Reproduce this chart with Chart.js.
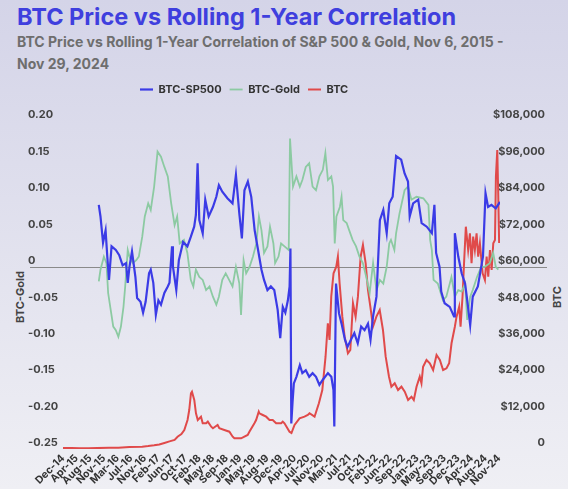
<!DOCTYPE html>
<html>
<head>
<meta charset="utf-8">
<script src="https://cdn.jsdelivr.net/npm/chart.js@4.4.1/dist/chart.umd.min.js"></script>
<style>
  html, body { margin: 0; padding: 0; }
  body {
    width: 568px; height: 489px; overflow: hidden; position: relative;
    background: linear-gradient(to bottom, #d4d4e8, #efeff4);
    font-family: Inter, sans-serif;
  }
  #title { position: absolute; left: 17px; top: 2px; font-size: 23.5px; font-weight: 700; color: #3f3fde; white-space: nowrap; }
  #subtitle { position: absolute; left: 17px; top: 31px; font-size: 14px; font-weight: 700; color: #6e6e6e; line-height: 22px; white-space: nowrap; }
  .axisTitle { position: absolute; font-size: 11px; font-weight: 700; color: #444; white-space: nowrap;
               transform: translate(-50%, -50%) rotate(-90deg); }
  #wrap { position: absolute; left: 0; top: 76px; width: 568px; height: 413px; }
</style>
</head>
<body>
<div id="title">BTC Price vs Rolling 1-Year Correlation</div>
<div id="subtitle">BTC Price vs Rolling 1-Year Correlation of S&amp;P 500 &amp; Gold, Nov 6, 2015 -<br>Nov 29, 2024</div>
<div class="axisTitle" style="left:20px; top:297px;">BTC-Gold</div>
<div class="axisTitle" style="left:557px; top:297px;">BTC</div>
<div id="wrap"><canvas id="chart" width="568" height="413"></canvas></div>
<script>
// x = weeks since the Dec-14 tick, labels every 16 weeks
const xLabels = ['Dec-14', 'Apr-15', 'Aug-15', 'Nov-15', 'Mar-16', 'Jul-16', 'Nov-16', 'Feb-17', 'Jun-17', 'Oct-17',
  'Feb-18', 'May-18', 'Sep-18', 'Jan-19', 'May-19', 'Aug-19', 'Dec-19', 'Apr-20', 'Jul-20', 'Nov-20', 'Mar-21',
  'Jul-21', 'Oct-21', 'Feb-22', 'Jun-22', 'Sep-22', 'Jan-23', 'May-23', 'Sep-23', 'Dec-23', 'Apr-24', 'Aug-24', 'Nov-24'];
const xTickWeeks = [0, 16, 32, 48, 64, 80, 96, 112, 128, 144, 160, 176, 192, 208, 224, 240, 256, 272, 288, 304,
  320, 336, 352, 368, 384, 400, 416, 432, 448, 464, 480, 496, 512];

// BTC vs S&P 500 rolling correlation [week, corr]
const sp500 = [
  [42, 0.085], [44, 0.069], [47, 0.033], [50, 0.050], [52, 0.014], [54, -0.018], [57, 0.028], [62, 0.023], [66, 0.016],
  [70, 0.002], [74, 0.005], [76, -0.022], [78, 0.000], [81, 0.021], [85, -0.014], [87, -0.043], [91, -0.048], [94, -0.063],
  [97, -0.048], [101, -0.009], [103, -0.004], [106, -0.022], [109, -0.066], [112, -0.046], [115, -0.052], [119, -0.036],
  [123, -0.027], [125, -0.022], [128, 0.028], [129, 0.001], [133, -0.032], [136, 0.009], [141, 0.034], [146, 0.028],
  [150, 0.041], [154, 0.055], [156, 0.071], [158, 0.142], [160, 0.064], [164, 0.046], [167, 0.092], [171, 0.069],
  [176, 0.082], [180, 0.096], [183, 0.112], [187, 0.103], [193, 0.094], [199, 0.087], [203, 0.126], [207, 0.073],
  [210, 0.039], [213, 0.105], [217, 0.117], [221, 0.096], [225, 0.050], [229, 0.023], [233, -0.004], [236, -0.018],
  [240, -0.032], [244, -0.027], [248, -0.032], [252, -0.059], [255, -0.098], [258, -0.055], [261, -0.063], [264, -0.046],
  [266, -0.027], [267, 0.025], [268, -0.215], [269.5, -0.185], [271, -0.160], [274, -0.151], [278, -0.135], [281, -0.146],
  [285, -0.142], [289, -0.151], [293, -0.146], [297, -0.151], [301, -0.162], [305, -0.155], [311, -0.146], [315, -0.151],
  [317.5, -0.169], [318.5, -0.219], [320.5, -0.023], [324, -0.064], [327, -0.078], [331, -0.100], [334, -0.110],
  [338, -0.100], [342, -0.091], [346, -0.105], [350, -0.082], [354, -0.087], [358, -0.078], [361, -0.100], [364, -0.068],
  [368, -0.041], [372, 0.064], [376, 0.078], [380, 0.046], [383, 0.087], [387, 0.096], [391, 0.152], [397, 0.147],
  [401, 0.128], [405, 0.117], [407, 0.069], [411, 0.087], [417, 0.092], [421, 0.060], [427, 0.055], [433, 0.046],
  [436, 0.085], [438, 0.019], [442, 0.000], [444, -0.034], [448, -0.050], [454, -0.055], [459, -0.068], [460, 0.046],
  [464, 0.014], [468, -0.009], [472, -0.023], [474, -0.041], [478, -0.080], [481, -0.041], [487, -0.027], [493, 0.014],
  [496, 0.101], [499, 0.082], [503, 0.085], [508, 0.080], [513, 0.089]
];

// BTC vs Gold rolling correlation [week, corr]
const gold = [
  [42, -0.020], [44, -0.004], [48, 0.014], [51, 0.005], [53, -0.036], [56, -0.059], [59, -0.082], [62, -0.087],
  [65, -0.096], [68, -0.082], [71, -0.055], [73, -0.027], [76, 0.023], [78, 0.014], [82, 0.005], [86, 0.009], [89, 0.014],
  [93, 0.041], [96, 0.069], [100, 0.087], [103, 0.078], [107, 0.110], [111, 0.158], [115, 0.151], [119, 0.137],
  [123, 0.124], [127, 0.087], [131, 0.057], [134, 0.069], [137, 0.032], [142, 0.037], [146, 0.019], [150, -0.018],
  [153, -0.027], [156, -0.004], [160, -0.014], [164, -0.018], [168, -0.032], [172, -0.027], [176, -0.041], [180, -0.052],
  [183, -0.041], [187, -0.018], [191, -0.009], [195, -0.018], [199, -0.027], [203, 0.000], [207, -0.023], [209, -0.066],
  [212, 0.009], [215, -0.009], [219, 0.000], [223, 0.014], [227, 0.032], [230, 0.069], [233, 0.050], [236, 0.019],
  [240, 0.028], [243, 0.055], [247, 0.032], [249, 0.005], [253, 0.014], [256, 0.032], [260, 0.028], [265, 0.023],
  [266.5, 0.176], [270, 0.110], [274, 0.124], [278, 0.110], [281, 0.119], [285, 0.137], [289, 0.142], [293, 0.110],
  [297, 0.105], [301, 0.124], [305, 0.133], [308, 0.156], [311, 0.119], [315, 0.124], [317, 0.110], [319, 0.032],
  [321, 0.069], [325, 0.082], [327, 0.096], [329, 0.064], [333, 0.060], [336, 0.050], [340, 0.037], [344, 0.028],
  [348, 0.014], [352, 0.005], [356, -0.014], [360, -0.036], [364, 0.005], [368, -0.032], [372, -0.018], [376, -0.023],
  [380, 0.000], [383, 0.032], [385, 0.037], [389, 0.023], [391, 0.046], [395, 0.073], [401, 0.105], [405, 0.110],
  [409, 0.092], [415, 0.096], [423, 0.094], [429, 0.085], [431, 0.037], [433, 0.023], [435, -0.018], [440, -0.023],
  [446, -0.046], [450, -0.041], [456, -0.014], [460, -0.041], [464, -0.032], [468, -0.034], [472, -0.023],
  [474.5, -0.073], [478, -0.041], [481, -0.032], [486, -0.014], [491, 0.000], [495, 0.000], [501, 0.005], [505, 0.019],
  [508, 0.000], [511, -0.004]
];

// BTC price in USD [week, price]
const btc = [
  [0, 330], [10, 300], [20, 260], [30, 240], [40, 300], [54, 420], [65, 450], [78, 620], [93, 760], [100, 950],
  [107, 1200], [113, 1500], [119, 2000], [125, 2500], [131, 3000], [134.5, 4050], [139, 4900], [142.4, 6250],
  [146.2, 9550], [148.2, 12840], [150.2, 18340], [151.4, 18870], [154.1, 16140], [156.1, 11760], [158.2, 9550],
  [162, 10640], [164, 8460], [168, 8460], [170, 9000], [174, 7340], [176, 6820], [181.5, 7900], [183.5, 6820],
  [189.4, 6260], [195.3, 5700], [199.2, 4050], [201.2, 3520], [209.1, 3520], [216.8, 4610], [218.8, 5700],
  [224.7, 8460], [226.7, 9550], [229.8, 12280], [230.6, 11760], [234.5, 11200], [238.5, 10640], [242.4, 9550],
  [246.2, 9550], [250.2, 8460], [256.1, 8460], [258, 9000], [260, 8460], [265.9, 5700], [268.2, 5270], [271.8, 7900],
  [277.7, 10110], [283.5, 10640], [287.4, 11200], [289.4, 11760], [295.3, 10640], [300.4, 15050], [304.4, 19430],
  [308.2, 30390], [310.9, 41390], [312.9, 35890], [314.9, 50150], [317.6, 57860], [320.8, 60030], [322.7, 63320],
  [324.7, 54570], [327.9, 43570], [330.6, 36980], [334.5, 31510], [337.3, 32600], [340.4, 47980], [343.5, 43570],
  [346.2, 50150], [349.4, 63320], [352.1, 67180], [355.3, 61150], [358, 52360], [360.8, 46860], [363.9, 40270],
  [367.9, 43570], [371.8, 45770], [375.6, 39190], [378.8, 30390], [382.7, 23810], [385.5, 20520], [389.4, 21640],
  [393.3, 19430], [397.3, 20520], [401.2, 18870], [405.1, 16140], [409.1, 17220], [411.8, 16140], [415, 20520],
  [418.8, 23810], [420.8, 21640], [422.7, 27100], [426.7, 29310], [430.6, 28220], [434.5, 26010], [438.5, 30950],
  [442.4, 29310], [446.2, 26010], [450.2, 26570], [453.3, 28220], [456.1, 34810], [460, 40270], [462, 43570],
  [465.1, 46860], [466.7, 40270], [469, 50150], [470.6, 60030], [472.9, 73200], [475.6, 65530], [477.7, 71030],
  [479.6, 61150], [481.5, 69910], [483.5, 65530], [485.5, 71030], [487.4, 63320], [489.4, 67740], [492.6, 57860],
  [495.3, 55650], [497.3, 63320], [499.2, 56740], [501.2, 65530], [503.2, 58940], [505.1, 67740], [507.1, 68820],
  [508.2, 89670], [509.8, 98460], [510.9, 84200], [512, 67840]
];

const toXY = arr => arr.map(p => ({ x: p[0], y: p[1] }));
const tickFont = { family: 'Inter', size: 11, weight: 'bold' };

// grey line at correlation 0, runs under the tick labels too
const zeroLine = {
  id: 'zeroLine',
  beforeDatasetsDraw(chart) {
    const y = Math.round(chart.scales.y.getPixelForValue(0)) + 0.5;
    const c = chart.ctx;
    c.save();
    c.strokeStyle = '#8a8a8a';
    c.lineWidth = 1;
    c.beginPath();
    c.moveTo(30, y);
    c.lineTo(547, y);
    c.stroke();
    c.restore();
  }
};

// legend sits a bit left of centre with extra room below it,
// and the y tick labels may spill outside their narrow axis boxes
const layoutTweaks = {
  id: 'layoutTweaks',
  beforeInit(chart) {
    const fit = chart.legend.fit;
    chart.legend.fit = function () { fit.call(this); this.height = 45; };
  },
  afterLayout(chart) {
    chart.legend.left = 132;
    chart.scales.y._computeLabelArea = () => undefined;
    chart.scales.y2._computeLabelArea = () => undefined;
  }
};

new Chart(document.getElementById('chart'), {
  type: 'line',
  data: {
    datasets: [
      { label: 'BTC-SP500', data: toXY(sp500), yAxisID: 'y', borderColor: '#3b3be6', borderWidth: 2.2, pointRadius: 0 },
      { label: 'BTC-Gold', data: toXY(gold), yAxisID: 'y', borderColor: '#8ccaa2', borderWidth: 1.8, pointRadius: 0 },
      { label: 'BTC', data: toXY(btc), yAxisID: 'y2', borderColor: '#e04a4a', borderWidth: 2, pointRadius: 0 }
    ]
  },
  options: {
    responsive: false,
    animation: false,
    devicePixelRatio: 1,
    layout: { padding: { left: 28, right: 23, top: 0, bottom: 0 } },
    plugins: {
      tooltip: { enabled: false },
      legend: {
        align: 'start',
        labels: {
          usePointStyle: true, pointStyle: 'line', pointStyleWidth: 13, padding: 8,
          color: '#333', font: tickFont
        }
      }
    },
    scales: {
      x: {
        type: 'linear', min: 0, max: 513,
        grid: { display: false, drawTicks: false }, border: { display: false },
        afterBuildTicks: s => { s.ticks = xTickWeeks.map(v => ({ value: v })); },
        afterFit: s => { s.height = 40; },
        ticks: {
          autoSkip: false, minRotation: 45, maxRotation: 45, padding: 3,
          color: '#333', font: { family: 'Inter', size: 10.5, weight: 'bold' },
          callback: (v, i) => xLabels[i]
        }
      },
      y: {
        position: 'left', min: -0.25, max: 0.2,
        grid: { display: false, drawTicks: false }, border: { display: false },
        afterFit: s => { s.width = 35; },
        ticks: {
          stepSize: 0.05, crossAlign: 'far', labelOffset: -6, color: '#444', font: tickFont,
          callback: v => Math.abs(v) < 1e-9 ? '0' : v.toFixed(2)
        }
      },
      y2: {
        position: 'right', min: 0, max: 108000,
        grid: { display: false, drawTicks: false }, border: { display: false },
        afterFit: s => { s.width = 45; },
        ticks: {
          stepSize: 12000, crossAlign: 'far', labelOffset: -6, color: '#444', font: tickFont,
          callback: v => v === 0 ? '0' : '$' + v.toLocaleString('en-US')
        }
      }
    }
  },
  plugins: [zeroLine, layoutTweaks]
});
</script>
</body>
</html>
